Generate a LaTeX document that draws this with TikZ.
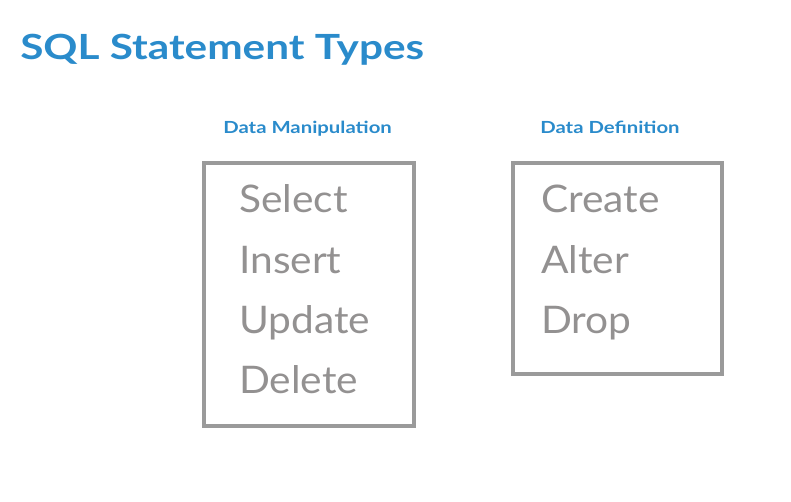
\documentclass[tikz,border=0pt]{standalone}
\usepackage{fontspec}
\setmainfont{Lato}
\newfontfamily\titlefont[FakeStretch=1.22]{Lato}
\newfontfamily\headfont[FakeStretch=1.22]{Lato}
\newfontfamily\itemfont[FakeStretch=1.07]{Lato}
\definecolor{titleblue}{HTML}{2A8BCB}
\definecolor{itemgray}{HTML}{939191}
\definecolor{boxgray}{HTML}{9A9A9A}
\begin{document}
\begin{tikzpicture}[x=0.75pt,y=-0.75pt,
  title/.style={anchor=base west,inner sep=0pt,text=titleblue,font=\titlefont\fontsize{26}{30}\selectfont\bfseries},
  heading/.style={anchor=base west,inner sep=0pt,text=titleblue,font=\headfont\fontsize{12.5}{14}\selectfont\bfseries},
  item/.style={anchor=base west,inner sep=0pt,text=itemgray,font=\itemfont\fontsize{28.5}{34}\selectfont},
  frame/.style={draw=boxgray,line width=2.5pt}]
\useasboundingbox (0,0) rectangle (791,501);
\node[title] (t) at (20,59) {SQL Statement Types};
\node[heading] (h1) at (223,133) {Data Manipulation};
\node[heading] (h2) at (540,133) {Data Definition};
\draw[frame] (204,163) rectangle (414,426);
\draw[frame] (513,163) rectangle (722,374);
\node[item] (s) at (239,212) {Select};
\node[item] (i) at (239,273) {Insert};
\node[item] (u) at (239,333) {Update};
\node[item] (d) at (239,393) {Delete};
\node[item] (c) at (541,212) {Create};
\node[item] (a) at (541,273) {Alter};
\node[item] (p) at (541,333) {Drop};
\end{tikzpicture}
\end{document}
